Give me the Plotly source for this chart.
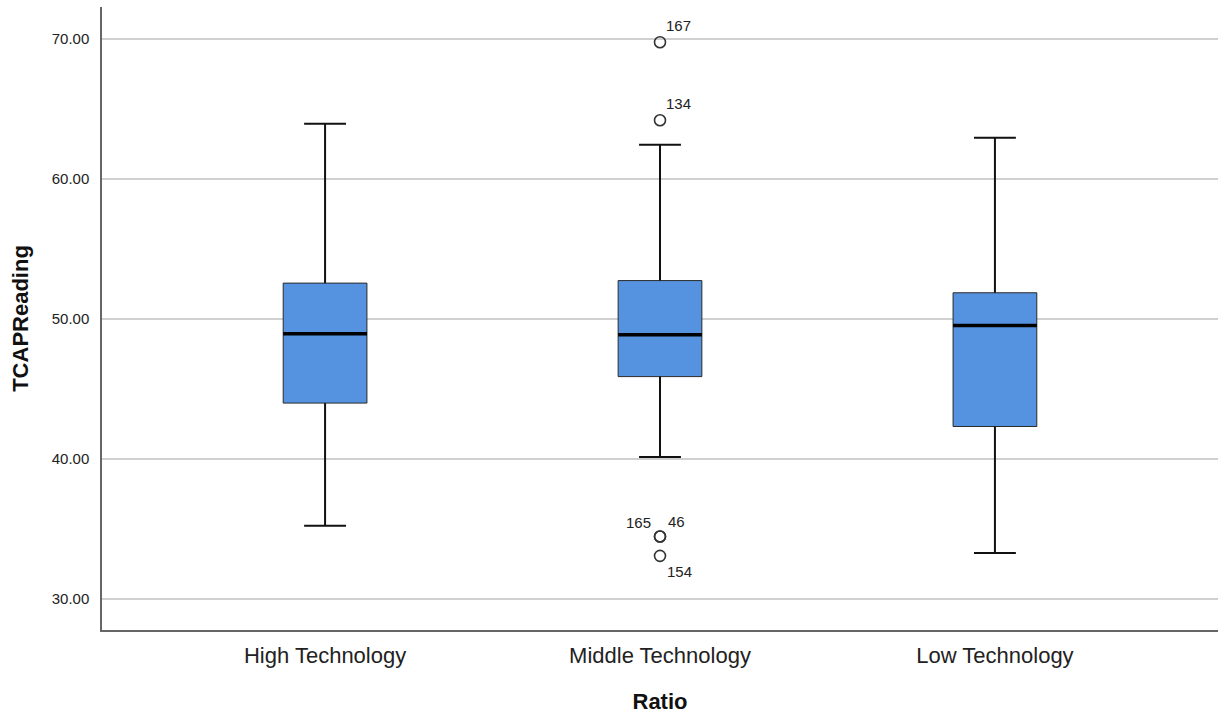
import plotly.graph_objects as go

# ---- data ----
categories = ["High Technology", "Middle Technology", "Low Technology"]
q1_vals = [43.99, 45.88, 42.32]
median_vals = [48.93, 48.86, 49.52]
q3_vals = [52.55, 52.73, 51.86]
lower_whisker = [35.23, 40.15, 33.30]
upper_whisker = [63.92, 62.42, 62.92]

outlier_cat = [1, 1, 1, 1, 1]
outlier_vals = [69.74, 64.17, 34.47, 34.47, 33.09]
outlier_ids = ["167", "134", "46", "165", "154"]
# label placement (dx, dy in px, anchor) per outlier
outlier_label_pos = [(4, 17, "left"), (4, 17, "left"), (6, 15, "left"),
                     (-7, 14, "right"), (5, -16, "left")]

y_ticks = [30, 40, 50, 60, 70]

BOX_W = 0.25
CAP_HALF = 0.0625
FONT = "Liberation Sans, Arial, sans-serif"

xs = list(range(len(categories)))
fig = go.Figure()

# boxes (whiskers drawn separately)
fig.add_trace(go.Box(
    x=xs, q1=q1_vals, median=median_vals, q3=q3_vals,
    lowerfence=q1_vals, upperfence=q3_vals,
    width=BOX_W, whiskerwidth=0,
    fillcolor="#5593E0", line=dict(color="#2a2a2a", width=1),
    boxpoints=False, showlegend=False, hoverinfo="skip",
))

# whiskers, caps and medians
wx, wy = [], []
for i in xs:
    wx += [i, i, None, i, i, None,
           i - CAP_HALF, i + CAP_HALF, None, i - CAP_HALF, i + CAP_HALF, None]
    wy += [q3_vals[i], upper_whisker[i], None, q1_vals[i], lower_whisker[i], None,
           upper_whisker[i], upper_whisker[i], None, lower_whisker[i], lower_whisker[i], None]
fig.add_trace(go.Scatter(x=wx, y=wy, mode="lines",
                         line=dict(color="#111111", width=2),
                         showlegend=False, hoverinfo="skip"))

mx, my = [], []
for i in xs:
    mx += [i - BOX_W / 2, i + BOX_W / 2, None]
    my += [median_vals[i], median_vals[i], None]
fig.add_trace(go.Scatter(x=mx, y=my, mode="lines",
                         line=dict(color="#000000", width=3.5),
                         showlegend=False, hoverinfo="skip"))

# outliers
fig.add_trace(go.Scatter(x=outlier_cat, y=outlier_vals, mode="markers",
                         marker=dict(symbol="circle-open", size=11, color="#333333",
                                     line=dict(color="#333333", width=1.6)),
                         showlegend=False, hoverinfo="skip"))

for c, v, t, (dx, dy, anc) in zip(outlier_cat, outlier_vals, outlier_ids, outlier_label_pos):
    fig.add_annotation(x=c, y=v, text=t, showarrow=False,
                       xanchor=anc, yanchor="middle", xshift=dx, yshift=dy,
                       font=dict(family=FONT, size=15, color="#222222"))

fig.update_layout(
    width=1222, height=714,
    margin=dict(l=102, r=4, t=7, b=84),
    paper_bgcolor="white", plot_bgcolor="white",
    font=dict(family=FONT, color="#222222"),
)
fig.update_xaxes(
    range=[-0.666, 2.666], tickvals=xs, ticktext=categories,
    tickfont=dict(size=22, color="#222222"),
    showgrid=False, zeroline=False, automargin=False,
    showline=True, linecolor="#666666", linewidth=1.5,
    ticks="", ticklabelstandoff=5,
    title=dict(text="<b>Ratio</b>", font=dict(size=22, color="#111111"), standoff=28),
)
fig.update_yaxes(
    range=[27.8, 72.25], tickvals=y_ticks,
    ticktext=[f"{v:.2f}" for v in y_ticks],
    tickfont=dict(size=15, color="#222222"),
    showgrid=True, gridcolor="#D0D0D0", gridwidth=1.5, zeroline=False, automargin=False,
    showline=True, linecolor="#666666", linewidth=1.5,
    ticks="", ticklabelstandoff=8,
    title=dict(text="<b>TCAPReading</b>", font=dict(size=22, color="#111111"), standoff=17),
)

fig.write_html("out.html", config={"displayModeBar": False},
               post_script="document.body.style.margin='0';")
